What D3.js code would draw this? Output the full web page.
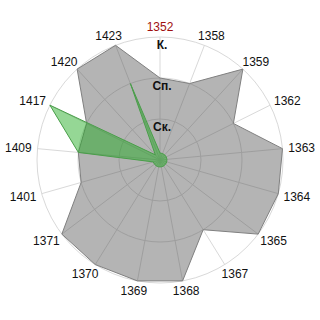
<!DOCTYPE html>
<html>
<head>
<meta charset="utf-8">
<script src="https://cdn.jsdelivr.net/npm/d3@7"></script>
<style>
  body { margin: 0; background: #fff; }
  text { font-family: "Liberation Sans", Arial, sans-serif; }
</style>
</head>
<body>
<div id="chart"></div>
<script>
// data
const categories = ['1352','1358','1359','1362','1363','1364','1365','1367','1368',
                    '1369','1370','1371','1401','1409','1417','1420','1423'];
const levelLabels = ['Ск.', 'Сп.', 'К.'];
const levelValues = [1, 2, 3];
const grayValues  = [2, 2, 3, 2, 3, 3, 3, 2, 3, 3, 3, 3, 2, 2, 2, 3, 3];
const greenValues = [0.17, 0.17, 0.17, 0.17, 0.17, 0.17, 0.17, 0.17, 0.17,
                     0.17, 0.17, 0.17, 0.17, 2, 3, 0.17, 2];
const highlightCat = '1352';

main()
function main(){
    const width = 320, height = 320;
    const cx = 160, cy = 160, outerR = 123;

    const svg = d3.select('#chart')
        .append('svg')
        .attr('width', width)
        .attr('height', height);

    const g = svg.append('g').attr('transform', `translate(${cx},${cy})`);

    // scales
    const angle = d3.scaleBand().domain(categories).range([0, 2 * Math.PI]);
    const r = d3.scaleLinear().domain([0, 3]).range([0, outerR]);

    // grid: rings + spokes
    const gridG = g.append('g');
    gridG.selectAll('circle')
        .data(levelValues)
        .join('circle')
        .attr('r', d => r(d))
        .attr('fill', 'none')
        .attr('stroke', '#d9d9d9');

    gridG.selectAll('line')
        .data(categories)
        .join('line')
        .attr('x2', d => Math.sin(angle(d)) * outerR)
        .attr('y2', d => -Math.cos(angle(d)) * outerR)
        .attr('stroke', '#d9d9d9');

    // series
    const radial = vals => d3.lineRadial()
        .angle((d, i) => angle(categories[i]))
        .radius(d => r(d))
        .curve(d3.curveLinearClosed)(vals);

    g.append('path')
        .attr('d', radial(grayValues))
        .attr('fill', 'rgba(80,80,80,0.43)')
        .attr('stroke', '#808080')
        .attr('stroke-width', 1)
        .attr('stroke-linejoin', 'round');

    g.append('path')
        .attr('d', radial(greenValues))
        .attr('fill', 'rgba(30,170,30,0.47)')
        .attr('stroke', '#4a9e4a')
        .attr('stroke-width', 1)
        .attr('stroke-linejoin', 'round');

    // radial level labels
    g.selectAll('.lvl')
        .data(levelValues)
        .join('text')
        .attr('class', 'lvl')
        .attr('x', 2)
        .attr('y', d => -r(d) + 12)
        .attr('text-anchor', 'middle')
        .attr('font-size', 12)
        .attr('font-weight', 'bold')
        .attr('fill', '#111')
        .text((d, i) => levelLabels[i]);

    // category labels
    const r0 = 129, hw = 13.3, hh = 4.5;
    g.selectAll('.cat')
        .data(categories)
        .join('text')
        .attr('class', 'cat')
        .attr('x', d => Math.sin(angle(d)) * (r0 + hw))
        .attr('y', d => -Math.cos(angle(d)) * (r0 + hh))
        .attr('dy', '0.35em')
        .attr('text-anchor', 'middle')
        .attr('font-size', 12)
        .attr('fill', d => d === highlightCat ? '#a01010' : '#111')
        .text(d => d);
}
</script>
</body>
</html>
